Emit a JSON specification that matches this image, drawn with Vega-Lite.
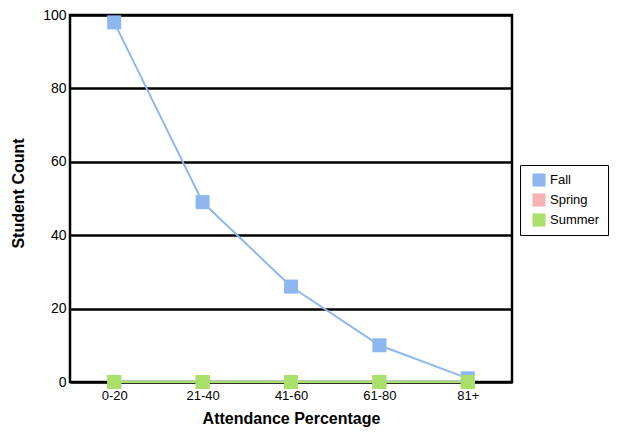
{
  "$schema": "https://vega.github.io/schema/vega-lite/v6.json",
  "width": 442,
  "height": 367,
  "autosize": {"type": "none"},
  "padding": {"left": 70, "top": 15, "right": 107, "bottom": 50},
  "background": "white",
  "config": {
    "font": "Liberation Sans",
    "view": {"stroke": "black", "strokeWidth": 2.5}
  },
  "data": {
    "values": [
      {"range": "0-20", "season": "Fall", "count": 98, "ord": 0},
      {"range": "21-40", "season": "Fall", "count": 49, "ord": 0},
      {"range": "41-60", "season": "Fall", "count": 26, "ord": 0},
      {"range": "61-80", "season": "Fall", "count": 10, "ord": 0},
      {"range": "81+", "season": "Fall", "count": 1, "ord": 0},
      {"range": "0-20", "season": "Spring", "count": 0, "ord": 1},
      {"range": "21-40", "season": "Spring", "count": 0, "ord": 1},
      {"range": "41-60", "season": "Spring", "count": 0, "ord": 1},
      {"range": "61-80", "season": "Spring", "count": 0, "ord": 1},
      {"range": "81+", "season": "Spring", "count": 0, "ord": 1},
      {"range": "0-20", "season": "Summer", "count": 0, "ord": 2},
      {"range": "21-40", "season": "Summer", "count": 0, "ord": 2},
      {"range": "41-60", "season": "Summer", "count": 0, "ord": 2},
      {"range": "61-80", "season": "Summer", "count": 0, "ord": 2},
      {"range": "81+", "season": "Summer", "count": 0, "ord": 2}
    ]
  },
  "encoding": {
    "x": {
      "field": "range",
      "type": "ordinal",
      "sort": ["0-20", "21-40", "41-60", "61-80", "81+"],
      "scale": {"type": "point", "padding": 0.5},
      "axis": {
        "title": "Attendance Percentage",
        "titleFont": "Liberation Sans",
        "titleFontSize": 16,
        "titleFontWeight": "bold",
        "titleColor": "black",
        "titlePadding": 8,
        "labelAngle": 0,
        "labelFontSize": 13,
        "labelColor": "black",
        "labelPadding": 7,
        "ticks": false,
        "domain": false
      }
    },
    "y": {
      "field": "count",
      "type": "quantitative",
      "scale": {"domain": [0, 100]},
      "axis": {
        "title": "Student Count",
        "titleFont": "Liberation Sans",
        "titleFontSize": 16,
        "titleFontWeight": "bold",
        "titleColor": "black",
        "titleX": -52,
        "titleY": 178,
        "titleAlign": "center",
        "titleBaseline": "middle",
        "values": [0, 20, 40, 60, 80, 100],
        "labelFontSize": 14,
        "labelColor": "black",
        "labelPadding": 4,
        "ticks": false,
        "domain": false,
        "grid": true,
        "gridColor": "black",
        "gridWidth": 2.5,
        "gridOpacity": 1
      }
    },
    "color": {
      "field": "season",
      "type": "nominal",
      "scale": {
        "domain": ["Fall", "Spring", "Summer"],
        "range": ["#8eb6ef", "#f5b3b3", "#a9e06c"]
      },
      "legend": {
        "title": null,
        "orient": "none",
        "legendX": 450,
        "legendY": 150,
        "strokeColor": "black",
        "padding": 8,
        "symbolType": "square",
        "symbolSize": 170,
        "symbolStrokeWidth": 0,
        "labelFontSize": 13,
        "labelColor": "black",
        "rowPadding": 6,
        "symbolOffset": 4
      }
    },
    "order": {"field": "ord"}
  },
  "layer": [
    {"mark": {"type": "line", "strokeWidth": 2}},
    {"mark": {"type": "point", "shape": "square", "filled": true, "size": 196, "opacity": 1}}
  ]
}
